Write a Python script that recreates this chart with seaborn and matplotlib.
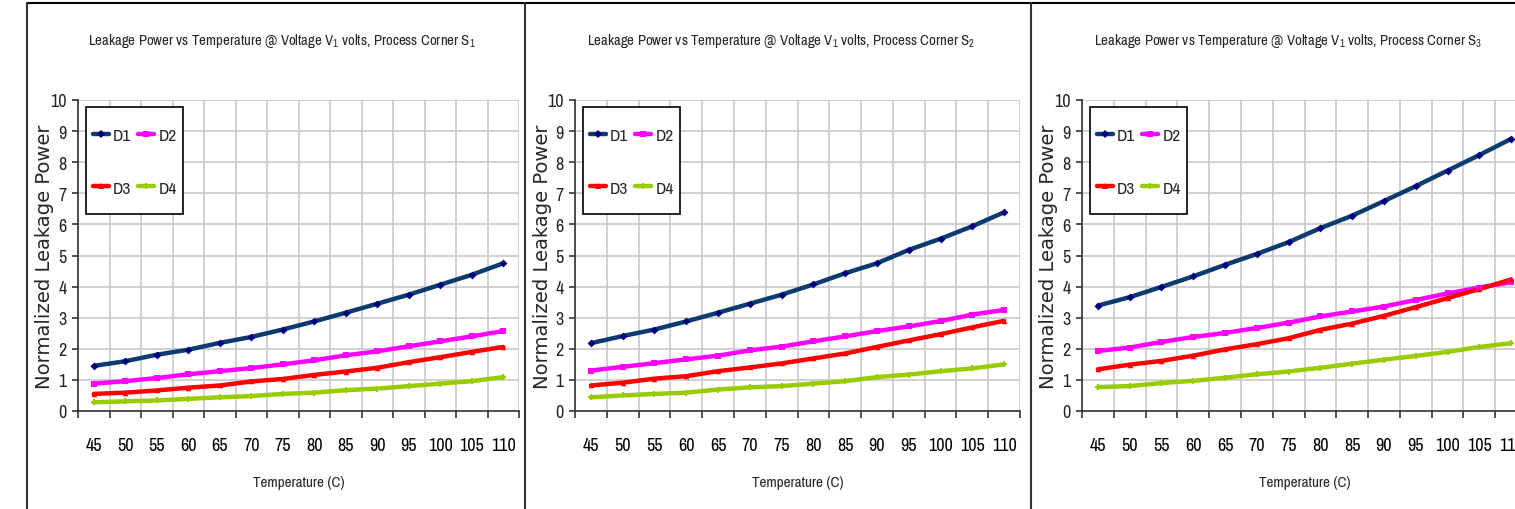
import matplotlib
matplotlib.use("Agg")
import matplotlib.pyplot as plt
import matplotlib.font_manager as fm
from matplotlib.lines import Line2D
from matplotlib.patches import Rectangle
import seaborn as sns
import pandas as pd
import numpy as np

temps = [45, 50, 55, 60, 65, 70, 75, 80, 85, 90, 95, 100, 105, 110]
series_names = ["D1", "D2", "D3", "D4"]
corners = ["1", "2", "3"]

s1_d1 = [1.45, 1.60, 1.81, 1.97, 2.19, 2.38, 2.62, 2.88, 3.16, 3.45, 3.74, 4.06, 4.38, 4.75]
s1_d2 = [0.88, 0.96, 1.06, 1.18, 1.28, 1.38, 1.50, 1.63, 1.79, 1.92, 2.08, 2.24, 2.40, 2.57]
s1_d3 = [0.55, 0.59, 0.66, 0.75, 0.82, 0.95, 1.03, 1.16, 1.27, 1.39, 1.57, 1.73, 1.90, 2.06]
s1_d4 = [0.28, 0.31, 0.34, 0.39, 0.44, 0.48, 0.55, 0.59, 0.67, 0.72, 0.80, 0.88, 0.96, 1.09]

s2_d1 = [2.18, 2.41, 2.62, 2.88, 3.16, 3.45, 3.74, 4.07, 4.43, 4.75, 5.18, 5.54, 5.94, 6.39]
s2_d2 = [1.30, 1.42, 1.54, 1.66, 1.78, 1.95, 2.07, 2.24, 2.40, 2.57, 2.72, 2.89, 3.10, 3.25]
s2_d3 = [0.82, 0.91, 1.04, 1.12, 1.28, 1.40, 1.53, 1.69, 1.85, 2.06, 2.27, 2.47, 2.69, 2.90]
s2_d4 = [0.44, 0.50, 0.55, 0.59, 0.69, 0.76, 0.80, 0.88, 0.96, 1.09, 1.17, 1.28, 1.37, 1.50]

s3_d1 = [3.39, 3.66, 3.99, 4.33, 4.70, 5.05, 5.43, 5.88, 6.28, 6.75, 7.23, 7.73, 8.23, 8.75]
s3_d2 = [1.93, 2.04, 2.22, 2.38, 2.51, 2.67, 2.84, 3.04, 3.20, 3.36, 3.57, 3.78, 3.97, 4.14]
s3_d3 = [1.34, 1.49, 1.61, 1.78, 1.98, 2.15, 2.34, 2.61, 2.81, 3.06, 3.34, 3.63, 3.92, 4.23]
s3_d4 = [0.77, 0.80, 0.90, 0.97, 1.07, 1.18, 1.27, 1.39, 1.52, 1.65, 1.77, 1.90, 2.06, 2.18]

panels = [
    [s1_d1, s1_d2, s1_d3, s1_d4],
    [s2_d1, s2_d2, s2_d3, s2_d4],
    [s3_d1, s3_d2, s3_d3, s3_d4],
]

line_colors = ["#0B3B6F", "#FF00FF", "#FF0000", "#99CC00"]
marker_colors = ["#000080", "#FF00FF", "#FF0000", "#99CC00"]
markers = ["D", "s", "^", "P"]

sns.set_theme(style="white")
available = {f.name for f in fm.fontManager.ttflist}
narrow = "Liberation Sans"
for cand in ["Liberation Sans Narrow", "Arial Narrow", "Archivo Narrow", "PT Sans Narrow",
             "Roboto Condensed", "Sofia Sans Condensed", "IBM Plex Sans Condensed", "Open Sans Condensed"]:
    if cand in available:
        narrow = cand
        break
wide = "DejaVu Sans"
plt.rcParams["font.family"] = [narrow, "DejaVu Sans"]
plt.rcParams["mathtext.fontset"] = "custom"
plt.rcParams["mathtext.rm"] = narrow
plt.rcParams["mathtext.it"] = narrow
plt.rcParams["mathtext.bf"] = narrow

W, H = 1515, 510
fig = plt.figure(figsize=(W / 100, H / 100), dpi=100)

axes_px = [(78, 441), (575, 445), (1082, 445)]
top_px, bot_px = 101, 412
ah = bot_px - top_px
LEG_FS = 12.5
fs_px = LEG_FS * 100 / 72

def make_legend(ax, wd, spacing):
    handles = [Line2D([], [], color=line_colors[j], lw=3.2, marker=markers[j], markersize=4,
                      markerfacecolor=marker_colors[j], markeredgewidth=0) for j in range(4)]
    order = [0, 2, 1, 3]
    # rows centred at y=136 and y=189 px, contents centred at x = left + 57 px
    return ax.legend([handles[k] for k in order], [series_names[k] for k in order], ncol=2,
                     loc="center", bbox_to_anchor=(57 / wd, (bot_px - 162.5) / ah), frameon=False,
                     fontsize=LEG_FS, handlelength=0.9, handletextpad=0.25, columnspacing=0.4,
                     labelspacing=spacing, borderpad=0, borderaxespad=0)

axes, legs, titles, xlabels, ylabels = [], [], [], [], []
for i, (lx, wd) in enumerate(axes_px):
    ax = fig.add_axes([lx / W, (H - bot_px) / H, wd / W, ah / H])
    rows = []
    for name, vals in zip(series_names, panels[i]):
        for t, v in zip(temps, vals):
            rows.append({"Temperature": t, "Power": v, "Series": name})
    df = pd.DataFrame(rows)
    sns.lineplot(data=df, x="Temperature", y="Power", hue="Series",
                 palette=dict(zip(series_names, line_colors)), lw=3.2,
                 ax=ax, legend=False, zorder=3)
    for j, name in enumerate(series_names):
        sub = df[df["Series"] == name]
        ax.scatter(sub["Temperature"], sub["Power"], marker=markers[j], s=16,
                   color=marker_colors[j], zorder=4, linewidths=0)

    ax.set_xlim(42.5, 112.5)
    ax.set_ylim(0, 10)
    ax.set_xticks(temps)
    ax.set_xticklabels([str(t) for t in temps])
    ax.set_xticks(np.arange(42.5, 113, 5), minor=True)
    ax.set_yticks(range(0, 11))
    ax.grid(False)
    ax.grid(True, which="minor", axis="x", color="#C8C8C8", lw=1.2)
    ax.grid(True, which="major", axis="y", color="#C8C8C8", lw=1.2)
    ax.tick_params(axis="x", which="major", length=0, pad=19, labelsize=13, colors="black")
    ax.tick_params(axis="x", which="minor", length=5, width=1.2, direction="out", color="#333333", bottom=True)
    ax.tick_params(axis="y", which="major", length=4, width=1.2, direction="out", left=True,
                   pad=4, labelsize=13, color="#333333")
    for s in ["top", "right"]:
        ax.spines[s].set_visible(False)
    for s in ["left", "bottom"]:
        ax.spines[s].set_color("#333333")
        ax.spines[s].set_linewidth(1.2)

    xl = ax.set_xlabel("Temperature (C)", fontsize=13, va="center")
    ax.xaxis.set_label_coords(0.5, (bot_px - 483) / ah)
    yl = ax.set_ylabel("Normalized Leakage Power", fontsize=13, family=[wide], va="center")
    ax.yaxis.set_label_coords(-33 / wd, 0.5)
    tt = ax.set_title(r"Leakage Power vs Temperature @ Voltage V$_1$ volts, Process Corner S$_{%s}$" % corners[i],
                      fontsize=12.5, pad=40)
    tt.set_x(0.5 - 16.5 / wd)
    titles.append(tt); xlabels.append(xl); ylabels.append(yl)

    legs.append(make_legend(ax, wd, 1.9))
    # legend frame
    ax.add_patch(Rectangle((8 / wd, (bot_px - 215) / ah), 97 / wd, 107 / ah, transform=ax.transAxes,
                           facecolor="white", edgecolor="black", lw=1.2, zorder=5, clip_on=False))
    axes.append(ax)

# fit text widths to the reference
fig.canvas.draw()
r = fig.canvas.get_renderer()
def fit(texts, target, vertical=False):
    for t in texts:
        bb = t.get_window_extent(r)
        cur = bb.height if vertical else bb.width
        t.set_fontsize(t.get_fontsize() * target / cur)
fit(titles, 388)
fit(xlabels, 92)
fit(ylabels, 265, vertical=True)

# tune legend row spacing so the two rows are 53 px apart
for k, ax in enumerate(axes):
    texts = legs[k].get_texts()
    y1 = texts[0].get_window_extent(r)
    y3 = texts[1].get_window_extent(r)
    d0 = abs((y1.y0 + y1.y1) / 2 - (y3.y0 + y3.y1) / 2)
    row_h = d0 - 1.9 * fs_px
    sp = (53 - row_h) / fs_px
    leg = make_legend(ax, axes_px[k][1], sp)
    leg.set_zorder(6)

def fx(x):
    return x / W
def fy(y):
    return 1 - y / H
fig.add_artist(Line2D([fx(27), fx(1515)], [fy(3.5), fy(3.5)], color="black", lw=1.5))
for xv in [27, 525, 1031]:
    fig.add_artist(Line2D([fx(xv), fx(xv)], [fy(3.5), fy(510)], color="#333333", lw=1.5))

fig.savefig("out.png", dpi=100)
